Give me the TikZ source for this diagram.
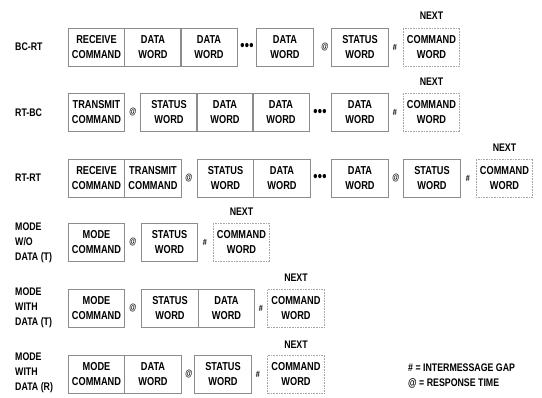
\documentclass[tikz,border=0pt]{standalone}
\usepackage{fontspec}
\setmainfont{Liberation Sans}[FakeStretch=0.8]
\usepackage{tikz}

\tikzset{
  word/.style={draw=black!45,line width=0.6pt,minimum width=56.5pt,minimum height=38pt,
    inner sep=0pt,align=center,font=\fontsize{11.5}{15}\selectfont\bfseries},
  nextword/.style={word,draw=black!35,densely dotted},
  gap/.style={inner sep=0pt,font=\fontsize{9}{10}\selectfont\bfseries},
  dots/.style={inner sep=0pt,font=\fontsize{15}{15}\selectfont\bfseries},
  rowlabel/.style={anchor=west,inner sep=0pt,align=left,font=\fontsize{11}{15}\selectfont\bfseries},
  nexttext/.style={inner sep=0pt,font=\fontsize{11}{12}\selectfont\bfseries}
}
\newcommand{\tripledot}{\textbullet\kern0.3pt\textbullet\kern0.3pt\textbullet}

\begin{document}
\begin{tikzpicture}[x=1pt,y=-1pt]
\useasboundingbox[fill=white] (0,0) rectangle (542,398);

% BC-RT
\node[rowlabel] (l1) at (15,47) {BC-RT};
\node[word] (a1) at (96.5,47) {RECEIVE\\COMMAND};
\node[word] (a2) at (153,47) {DATA\\WORD};
\node[word] (a3) at (209,47) {DATA\\WORD};
\node[dots] (a4) at (247,47) {\tripledot};
\node[word] (a5) at (285,47) {DATA\\WORD};
\node[gap] (a6) at (325,47) {@};
\node[word] (a7) at (360,47) {STATUS\\WORD};
\node[gap] (a8) at (395,47) {\#};
\node[nextword] (a9) at (431.5,47) {COMMAND\\WORD};
\node[nexttext] (n1) at (431.5,16) {NEXT};

% RT-BC
\node[rowlabel] (l2) at (15,112.5) {RT-BC};
\node[word] (b1) at (96.5,112.5) {TRANSMIT\\COMMAND};
\node[gap] (b2) at (133,112.5) {@};
\node[word] (b3) at (169,112.5) {STATUS\\WORD};
\node[word] (b4) at (225,112.5) {DATA\\WORD};
\node[word] (b5) at (281,112.5) {DATA\\WORD};
\node[dots] (b6) at (320,112.5) {\tripledot};
\node[word] (b7) at (360,112.5) {DATA\\WORD};
\node[gap] (b8) at (395,112.5) {\#};
\node[nextword] (b9) at (431.5,112.5) {COMMAND\\WORD};
\node[nexttext] (n2) at (431.5,82) {NEXT};

% RT-RT
\node[rowlabel] (l3) at (15,178) {RT-RT};
\node[word] (c1) at (96.5,178) {RECEIVE\\COMMAND};
\node[word] (c2) at (153,178) {TRANSMIT\\COMMAND};
\node[gap] (c3) at (189,178) {@};
\node[word] (c4) at (225.5,178) {STATUS\\WORD};
\node[word] (c5) at (282,178) {DATA\\WORD};
\node[dots] (c6) at (320,178) {\tripledot};
\node[word] (c7) at (360,178) {DATA\\WORD};
\node[gap] (c8) at (396,178) {@};
\node[word] (c9) at (432,178) {STATUS\\WORD};
\node[gap] (c10) at (468,178) {\#};
\node[nextword] (c11) at (504.5,178) {COMMAND\\WORD};
\node[nexttext] (n3) at (504.5,148) {NEXT};

% mode without data
\node[rowlabel] (l4) at (15,243) {MODE\\W/O\\DATA (T)};
\node[word] (d1) at (96.5,242.5) {MODE\\COMMAND};
\node[gap] (d2) at (133,242.5) {@};
\node[word] (d3) at (169.5,242.5) {STATUS\\WORD};
\node[gap] (d4) at (205,242.5) {\#};
\node[nextword] (d5) at (241.5,242.5) {COMMAND\\WORD};
\node[nexttext] (n4) at (241.5,212) {NEXT};

% mode with data, transmit
\node[rowlabel] (l5) at (15,308) {MODE\\WITH\\DATA (T)};
\node[word] (e1) at (96.5,308) {MODE\\COMMAND};
\node[gap] (e2) at (133,308) {@};
\node[word] (e3) at (170,308) {STATUS\\WORD};
\node[word] (e4) at (226.5,308) {DATA\\WORD};
\node[gap] (e5) at (261,308) {\#};
\node[nextword] (e6) at (296,308) {COMMAND\\WORD};
\node[nexttext] (n5) at (296,278) {NEXT};

% mode with data, receive
\node[rowlabel] (l6) at (15,373) {MODE\\WITH\\DATA (R)};
\node[word] (f1) at (96.5,374) {MODE\\COMMAND};
\node[word] (f2) at (153,374) {DATA\\WORD};
\node[gap] (f3) at (189,374) {@};
\node[word] (f4) at (223,374) {STATUS\\WORD};
\node[gap] (f5) at (258,374) {\#};
\node[nextword] (f6) at (296,374) {COMMAND\\WORD};
\node[nexttext] (n6) at (296,345) {NEXT};

% legend
\node[rowlabel] (k1) at (408,368) {\# = INTERMESSAGE GAP};
\node[rowlabel] (k2) at (408,383) {@ = RESPONSE TIME};

\end{tikzpicture}
\end{document}
